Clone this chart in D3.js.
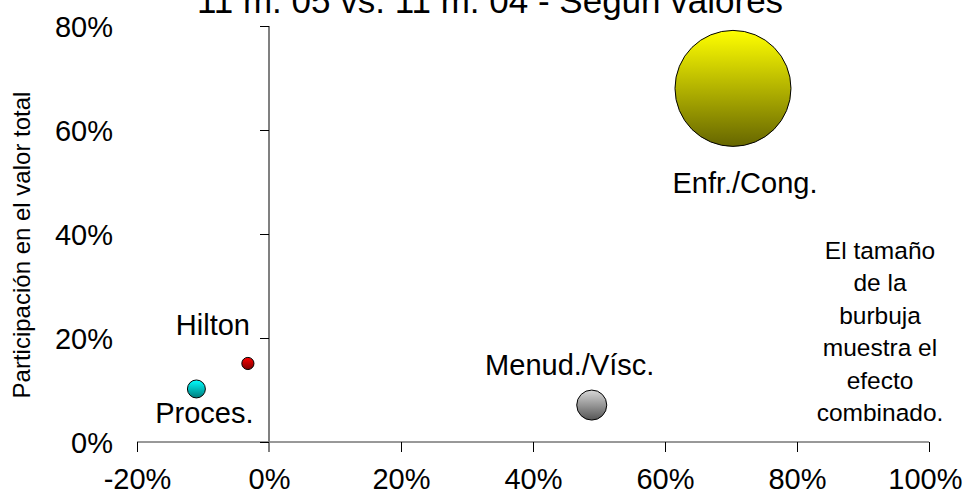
<!DOCTYPE html>
<html><head><meta charset="utf-8">
<script src="https://cdn.jsdelivr.net/npm/d3@7"></script>
<style>body{margin:0;background:#fff}svg{display:block;font-family:"Liberation Sans",Arial,sans-serif}</style>
</head><body><svg id="c" width="964" height="496"></svg>
<script>
const categories = ["Hilton", "Proces.", "Menud./Vísc.", "Enfr./Cong."];
const variation = [-3.2, -11.0, 48.9, 70.3];      // % change (x)
const share = [15.1, 10.2, 7.1, 68.0];            // % share of total value (y)
const combinedEffect = [1.1, 2.4, 6.7, 100];      // bubble size (relative)
const xTicks = [-20, 0, 20, 40, 60, 80, 100];
const yTicks = [0, 20, 40, 60, 80];
const title = "11 m. 05 vs. 11 m. 04 - Según valores";
const yTitle = "Participación en el valor total";
const note = ["El tamaño", "de la", "burbuja", "muestra el", "efecto", "combinado."];

const colors = ["#ff0000", "#00ffff", "#d8d8d8", "#ffff00"];
const darks  = ["#7a0000", "#007a7a", "#555555", "#666600"];
const labelOffsets = [[-35, -28], [8, 34], [-22, -30], [12, 105]];

const svg = d3.select("#c");
const x = d3.scaleLinear().domain([-20, 100]).range([137, 929]);
const y = d3.scaleLinear().domain([0, 80]).range([442, 26]);
const r = d3.scaleSqrt().domain([0, 100]).range([0, 58]);

const defs = svg.append("defs");
colors.forEach((c, i) => {
  const g = defs.append("linearGradient").attr("id", "g" + i)
    .attr("x1", 0).attr("y1", 0).attr("x2", 0).attr("y2", 1);
  g.append("stop").attr("offset", "0%").attr("stop-color", c);
  g.append("stop").attr("offset", "100%").attr("stop-color", darks[i]);
});

svg.append("text").attr("x", 490).attr("y", 13).attr("text-anchor", "middle")
  .attr("font-size", 35).text(title);

// x axis at y=0
const xAxis = svg.append("g").attr("transform", `translate(0,${y(0)})`)
  .call(d3.axisBottom(x).tickValues(xTicks).tickSize(10).tickFormat(d => d + "%"));
xAxis.attr("font-family", null);
xAxis.select(".domain").attr("stroke", "#333").attr("d", `M${x(-20)},0H${x(100)}`);
xAxis.selectAll(".tick line").attr("stroke", "#000");
xAxis.selectAll(".tick text").attr("font-size", 29).attr("fill", "#000")
  .attr("y", 47).attr("dy", null)
  .each(function(d) {
    if (d === 100) d3.select(this).attr("text-anchor", "end").attr("x", 962 - x(100));
  });

// y axis at x=0, labels at left of plot
const yAxis = svg.append("g").attr("transform", `translate(${x(0)},0)`)
  .call(d3.axisLeft(y).tickValues(yTicks).tickSize(9).tickFormat(d => d + "%"));
yAxis.attr("font-family", null);
yAxis.select(".domain").attr("stroke", "#808080").attr("stroke-width", 2)
  .attr("d", `M0,${y(80)}V${y(0) + 10}`);
yAxis.selectAll(".tick line").attr("stroke", "#000");
yAxis.selectAll(".tick text").attr("font-size", 29).attr("fill", "#000")
  .attr("x", x(-20) - 24 - x(0)).attr("dy", "0.35em");

svg.append("text").attr("transform", `translate(30,245) rotate(-90)`)
  .attr("text-anchor", "middle").attr("font-size", 24).text(yTitle);

const data = categories.map((c, i) => ({c, x: variation[i], y: share[i], s: combinedEffect[i], i}));
data.slice().sort((a, b) => b.s - a.s).forEach(d => {
  svg.append("circle").attr("cx", x(d.x)).attr("cy", y(d.y)).attr("r", r(d.s))
    .attr("fill", `url(#g${d.i})`).attr("stroke", "#000").attr("stroke-width", 1);
});
data.forEach(d => {
  svg.append("text").attr("x", x(d.x) + labelOffsets[d.i][0]).attr("y", y(d.y) + labelOffsets[d.i][1])
    .attr("text-anchor", "middle").attr("font-size", 29).text(d.c);
});

const nt = svg.append("text").attr("text-anchor", "middle").attr("font-size", 24.5);
note.forEach((l, i) => nt.append("tspan").attr("x", 880).attr("y", 259 + i * 32.4).text(l));
</script></body></html>
